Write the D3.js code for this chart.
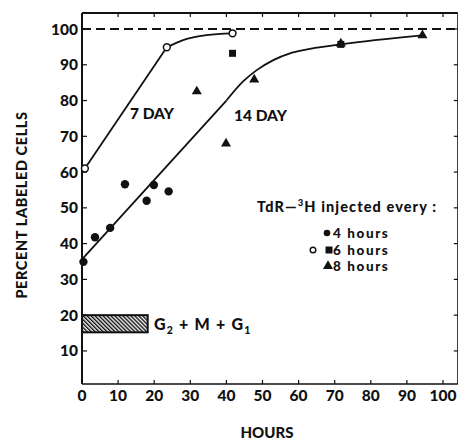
<!DOCTYPE html>
<html><head><meta charset="utf-8">
<script src="https://cdn.jsdelivr.net/npm/d3@7"></script>
<style>body{margin:0;background:#fff}svg{display:block}text{font-family:Lato,"DejaVu Sans",sans-serif;font-weight:900;fill:#111}</style>
</head><body><svg id="c" width="458" height="441"></svg>
<script>
// 7-day, 6-hour injections (open circles)
const day7_6h = [[0.8,61.0],[23.5,94.9],[41.7,98.8]];
// 14-day points
const day14_4h = [[0.4,34.9],[3.6,41.8],[7.8,44.4],[11.9,56.6],[17.9,52.0],[19.9,56.4],[24.0,54.6]];
const day14_6h = [[41.7,93.2],[71.7,95.7]];
const day14_8h = [[31.8,82.4],[39.9,67.8],[47.7,85.7],[71.7,95.8],[94.3,98.1]];
// fitted curves: straight part, then smooth bend
const fit7Straight = [[0.8,61.0],[23.5,94.9]];
const fit7Bend = [[23.5,94.9],[28,96.9],[34.5,98.3],[41.7,98.8]];
const fit14Straight = [[0,35.6],[40,80.0]];
const fit14Bend = [[40,80.0],[44.7,85.4],[48.4,88.5],[53,91.3],[57.6,93.2],[61.3,94.1],[71.7,95.7],[94.3,98.2]];
const xTicks = [0,10,20,30,40,50,60,70,80,90,100];
const yTicks = [10,20,30,40,50,60,70,80,90,100];
const g2mg1 = [0,18.2,15.2,20.0]; // x0,x1,y0,y1

const svg = d3.select("#c");
const x = d3.scaleLinear().domain([0,100]).range([82,443]);
const y = d3.scaleLinear().domain([0,100]).range([386.7,29]);
const xMax = 104.1, yTop = 104.5, yBot = 0.75;

const defs = svg.append("defs");
const pat = defs.append("pattern").attr("id","hatch").attr("patternUnits","userSpaceOnUse")
  .attr("width",2.8).attr("height",2.8).attr("patternTransform","rotate(-45)");
pat.append("rect").attr("width",2.8).attr("height",2.8).attr("fill","#fff");
pat.append("line").attr("x1",0.7).attr("y1",0).attr("x2",0.7).attr("y2",2.8).attr("stroke","#111").attr("stroke-width",1.5);

// frame
const fr = svg.append("g").attr("stroke","#111").attr("fill","none");
fr.append("line").attr("x1",x(0)).attr("x2",x(0)).attr("y1",y(yTop)).attr("y2",y(yBot)).attr("stroke-width",2);
fr.append("line").attr("x1",x(0)).attr("x2",x(xMax)).attr("y1",y(yBot)).attr("y2",y(yBot)).attr("stroke-width",1.6);
fr.append("line").attr("x1",x(0)).attr("x2",x(xMax)).attr("y1",y(yTop)).attr("y2",y(yTop)).attr("stroke-width",2);
fr.append("line").attr("x1",x(xMax)).attr("x2",x(xMax)).attr("y1",y(yTop)).attr("y2",y(yBot)).attr("stroke-width",1.2);

// ticks (inward)
xTicks.filter(d=>d>0).forEach(d=>{
  fr.append("line").attr("x1",x(d)).attr("x2",x(d)).attr("y1",y(yBot)).attr("y2",y(yBot)-4).attr("stroke-width",1.2);
  fr.append("line").attr("x1",x(d)).attr("x2",x(d)).attr("y1",y(yTop)).attr("y2",y(yTop)+4).attr("stroke-width",1.2);
});
yTicks.forEach(d=>{
  fr.append("line").attr("x1",x(0)).attr("x2",x(0)+5).attr("y1",y(d)).attr("y2",y(d)).attr("stroke-width",1.2);
  fr.append("line").attr("x1",x(xMax)).attr("x2",x(xMax)-4).attr("y1",y(d)).attr("y2",y(d)).attr("stroke-width",1.2);
});
svg.append("g").selectAll("text").data(xTicks).join("text")
  .attr("x",d=>x(d)).attr("y",401).attr("text-anchor","middle").attr("font-size",15.5).text(d=>d);
svg.append("g").selectAll("text").data(yTicks).join("text")
  .attr("x",78).attr("y",d=>y(d)+5.5).attr("text-anchor","end").attr("font-size",15.5).text(d=>d);

// 100% dashed line
svg.append("line").attr("x1",x(0)).attr("x2",x(xMax)).attr("y1",y(100)).attr("y2",y(100))
  .attr("stroke","#111").attr("stroke-width",1.8).attr("stroke-dasharray","9,5");

// curves
const lin = d3.line().x(d=>x(d[0])).y(d=>y(d[1]));
const smooth = d3.line().x(d=>x(d[0])).y(d=>y(d[1])).curve(d3.curveMonotoneX);
[[fit7Straight,lin],[fit7Bend,smooth],[fit14Straight,lin],[fit14Bend,smooth]].forEach(([pts,gen])=>{
  svg.append("path").datum(pts).attr("d",gen).attr("fill","none").attr("stroke","#111").attr("stroke-width",1.8);
});

// markers
const tri = d3.symbol().type(d3.symbolTriangle).size(44);
svg.append("g").selectAll("circle").data(day14_4h).join("circle")
  .attr("cx",d=>x(d[0])).attr("cy",d=>y(d[1])).attr("r",4.2).attr("fill","#111");
svg.append("g").selectAll("rect").data(day14_6h).join("rect")
  .attr("x",d=>x(d[0])-3.5).attr("y",d=>y(d[1])-3.5).attr("width",7).attr("height",7).attr("fill","#111");
svg.append("g").selectAll("path").data(day14_8h).join("path")
  .attr("d",tri).attr("transform",d=>`translate(${x(d[0])},${y(d[1])-0.5})`).attr("fill","#111");
svg.append("g").selectAll("circle").data(day7_6h).join("circle")
  .attr("cx",d=>x(d[0])).attr("cy",d=>y(d[1])).attr("r",3.4).attr("fill","#fff").attr("stroke","#111").attr("stroke-width",1.5);

// hatched G2+M+G1 bar
svg.append("rect").attr("x",x(g2mg1[0])).attr("y",y(g2mg1[3])).attr("width",x(g2mg1[1])-x(g2mg1[0]))
  .attr("height",y(g2mg1[2])-y(g2mg1[3])).attr("fill","url(#hatch)").attr("stroke","#111").attr("stroke-width",2);
const gl = svg.append("text").attr("x",154).attr("y",330).attr("font-size",16).attr("letter-spacing",1.2);
gl.append("tspan").text("G");
gl.append("tspan").attr("font-size",10.5).attr("dy",4).text("2");
gl.append("tspan").attr("dy",-4).text(" + M + G");
gl.append("tspan").attr("font-size",10.5).attr("dy",4).text("1");

// labels
svg.append("text").attr("x",130).attr("y",119).attr("font-size",15.5).text("7 DAY");
svg.append("text").attr("x",234).attr("y",121).attr("font-size",15.5).text("14 DAY");
const lt = svg.append("text").attr("x",257).attr("y",212).attr("font-size",14.5).attr("letter-spacing",1.1);
lt.append("tspan").text("TdR\u2014");
lt.append("tspan").attr("font-size",9.5).attr("dy",-6).text("3");
lt.append("tspan").attr("dy",6).text("H injected every :");

// legend
svg.append("circle").attr("cx",327).attr("cy",233).attr("r",3.3).attr("fill","#111");
svg.append("circle").attr("cx",313).attr("cy",250).attr("r",2.8).attr("fill","#fff").attr("stroke","#111").attr("stroke-width",1.4);
svg.append("rect").attr("x",325.5).attr("y",246.5).attr("width",7).attr("height",7).attr("fill","#111");
svg.append("path").attr("d",tri).attr("transform","translate(328,266)").attr("fill","#111");
const lg = [["4 hours",237.5],["6 hours",254.5],["8 hours",271]];
svg.append("g").selectAll("text").data(lg).join("text")
  .attr("x",333).attr("y",d=>d[1]).attr("font-size",13.5).attr("letter-spacing",1.6).text(d=>d[0]);

// axis titles
svg.append("text").attr("transform","translate(27,205) rotate(-90)").attr("text-anchor","middle")
  .attr("font-size",14.5).attr("letter-spacing",0.6).text("PERCENT LABELED CELLS");
svg.append("text").attr("x",267).attr("y",438).attr("text-anchor","middle").attr("font-size",15).text("HOURS");
</script></body></html>
